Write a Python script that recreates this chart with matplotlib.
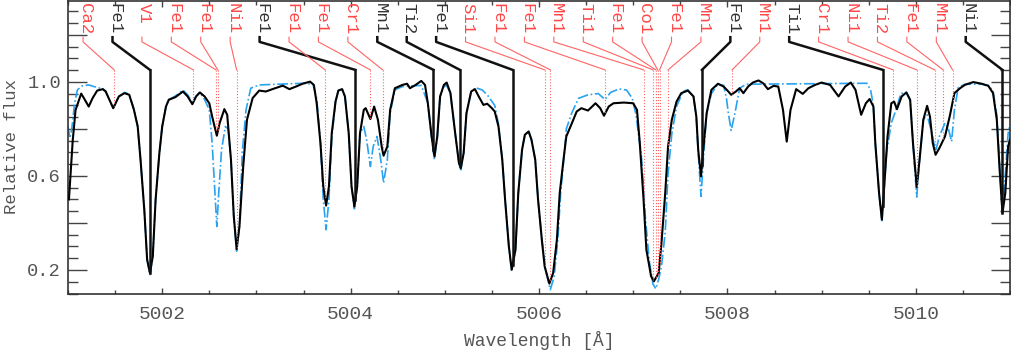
import numpy as np
import matplotlib
matplotlib.use('Agg')
import matplotlib.pyplot as plt
from matplotlib.ticker import MultipleLocator, FuncFormatter

plt.rcParams['font.family'] = ['Liberation Mono', 'DejaVu Sans Mono']

# observed spectrum (black)
obs_wave = [5001.01, 5001.05, 5001.08, 5001.14, 5001.17, 5001.22, 5001.26, 5001.31, 5001.37, 5001.40,
            5001.48, 5001.54, 5001.60, 5001.65, 5001.70, 5001.74, 5001.77, 5001.81, 5001.84, 5001.87,
            5001.90, 5001.93, 5001.97, 5002.00, 5002.04, 5002.07, 5002.14, 5002.22, 5002.27, 5002.32,
            5002.36, 5002.40, 5002.45, 5002.50, 5002.53, 5002.58, 5002.61, 5002.66, 5002.69, 5002.73,
            5002.76, 5002.79, 5002.82, 5002.86, 5002.90, 5002.96, 5003.03, 5003.10, 5003.17, 5003.28,
            5003.35, 5003.42, 5003.49, 5003.57, 5003.61, 5003.64, 5003.68, 5003.71, 5003.74, 5003.77,
            5003.80, 5003.84, 5003.87, 5003.91, 5003.94, 5003.98, 5004.01, 5004.04, 5004.07, 5004.10,
            5004.14, 5004.16, 5004.21, 5004.25, 5004.29, 5004.33, 5004.35, 5004.39, 5004.42, 5004.47,
            5004.55, 5004.60, 5004.63, 5004.69, 5004.75, 5004.79, 5004.82, 5004.86, 5004.89, 5004.92,
            5004.95, 5004.99, 5005.02, 5005.06, 5005.11, 5005.15, 5005.17, 5005.20, 5005.23, 5005.28,
            5005.32, 5005.36, 5005.41, 5005.45, 5005.50, 5005.53, 5005.57, 5005.61, 5005.64, 5005.68,
            5005.71, 5005.75, 5005.78, 5005.82, 5005.85, 5005.89, 5005.92, 5005.96, 5005.99, 5006.03,
            5006.06, 5006.11, 5006.15, 5006.19, 5006.22, 5006.26, 5006.29, 5006.35, 5006.40, 5006.45,
            5006.52, 5006.60, 5006.65, 5006.69, 5006.74, 5006.79, 5006.90, 5007.00, 5007.04, 5007.07,
            5007.11, 5007.14, 5007.19, 5007.22, 5007.27, 5007.30, 5007.34, 5007.37, 5007.41, 5007.46,
            5007.51, 5007.58, 5007.64, 5007.67, 5007.69, 5007.72, 5007.74, 5007.78, 5007.83, 5007.90,
            5007.96, 5008.01, 5008.04, 5008.09, 5008.13, 5008.17, 5008.22, 5008.27, 5008.33, 5008.38,
            5008.43, 5008.49, 5008.54, 5008.59, 5008.63, 5008.67, 5008.73, 5008.80, 5008.86, 5008.93,
            5009.00, 5009.09, 5009.18, 5009.25, 5009.31, 5009.36, 5009.42, 5009.47, 5009.51, 5009.55,
            5009.57, 5009.61, 5009.64, 5009.66, 5009.70, 5009.74, 5009.77, 5009.80, 5009.85, 5009.90,
            5009.94, 5009.97, 5010.01, 5010.04, 5010.08, 5010.12, 5010.15, 5010.18, 5010.21, 5010.25,
            5010.31, 5010.36, 5010.41, 5010.47, 5010.52, 5010.61, 5010.70, 5010.77, 5010.82, 5010.86,
            5010.89, 5010.92, 5010.95, 5010.98, 5011.00]
obs_flux = [0.500, 0.750, 0.880, 0.950, 0.930, 0.895, 0.930, 0.963, 0.969, 0.959,
            0.888, 0.938, 0.952, 0.945, 0.881, 0.810, 0.669, 0.456, 0.244, 0.187,
            0.258, 0.499, 0.697, 0.810, 0.895, 0.924, 0.935, 0.959, 0.938, 0.905,
            0.938, 0.955, 0.938, 0.909, 0.853, 0.771, 0.825, 0.884, 0.860, 0.669,
            0.428, 0.289, 0.385, 0.640, 0.839, 0.931, 0.963, 0.959, 0.969, 0.984,
            0.969, 0.980, 0.992, 1.001, 0.987, 0.909, 0.740, 0.555, 0.474, 0.555,
            0.782, 0.916, 0.963, 0.969, 0.938, 0.782, 0.555, 0.470, 0.555, 0.782,
            0.881, 0.888, 0.842, 0.895, 0.839, 0.725, 0.686, 0.725, 0.881, 0.973,
            0.987, 0.992, 0.973, 0.987, 1.004, 0.987, 0.909, 0.768, 0.683, 0.768,
            0.938, 0.987, 0.997, 0.952, 0.782, 0.655, 0.633, 0.697, 0.867, 0.959,
            0.969, 0.938, 0.902, 0.907, 0.888, 0.874, 0.810, 0.669, 0.499, 0.300,
            0.201, 0.286, 0.527, 0.711, 0.775, 0.789, 0.754, 0.669, 0.499, 0.329,
            0.215, 0.142, 0.187, 0.329, 0.527, 0.669, 0.768, 0.825, 0.874, 0.888,
            0.878, 0.909, 0.888, 0.856, 0.895, 0.909, 0.912, 0.909, 0.881, 0.740,
            0.499, 0.286, 0.173, 0.152, 0.187, 0.314, 0.527, 0.725, 0.839, 0.916,
            0.952, 0.963, 0.938, 0.853, 0.711, 0.598, 0.697, 0.867, 0.966, 0.992,
            0.980, 0.959, 0.945, 0.959, 0.973, 0.952, 0.980, 0.997, 1.006, 0.994,
            0.969, 0.983, 0.980, 0.881, 0.746, 0.881, 0.969, 0.949, 0.973, 0.987,
            0.997, 0.987, 0.938, 0.980, 0.997, 0.966, 0.860, 0.909, 0.927, 0.895,
            0.740, 0.527, 0.414, 0.527, 0.768, 0.909, 0.916, 0.884, 0.938, 0.955,
            0.924, 0.740, 0.553, 0.669, 0.839, 0.898, 0.853, 0.740, 0.690, 0.718,
            0.768, 0.853, 0.952, 0.973, 0.987, 0.999, 0.992, 0.983, 0.952, 0.839,
            0.626, 0.442, 0.527, 0.725, 0.754]

# synthetic spectrum (blue, dash-dot)
mod_wave = [5001.00, 5001.02, 5001.04, 5001.07, 5001.10, 5001.15, 5001.22, 5001.30, 5001.37, 5001.40,
            5001.48, 5001.54, 5001.60, 5001.65, 5001.70, 5001.74, 5001.77, 5001.81, 5001.84, 5001.87,
            5001.90, 5001.93, 5001.97, 5002.00, 5002.04, 5002.07, 5002.14, 5002.22, 5002.27, 5002.32,
            5002.36, 5002.40, 5002.45, 5002.50, 5002.53, 5002.56, 5002.58, 5002.60, 5002.63, 5002.67,
            5002.70, 5002.73, 5002.76, 5002.79, 5002.82, 5002.85, 5002.89, 5002.94, 5003.03, 5003.50,
            5003.60, 5003.64, 5003.68, 5003.71, 5003.74, 5003.77, 5003.80, 5003.84, 5003.87, 5003.91,
            5003.94, 5003.98, 5004.01, 5004.04, 5004.07, 5004.10, 5004.14, 5004.17, 5004.21, 5004.24,
            5004.28, 5004.32, 5004.35, 5004.39, 5004.42, 5004.47, 5004.55, 5004.75, 5004.82, 5004.86,
            5004.89, 5004.92, 5004.95, 5004.99, 5005.02, 5005.06, 5005.11, 5005.15, 5005.17, 5005.20,
            5005.23, 5005.28, 5005.33, 5005.40, 5005.46, 5005.53, 5005.57, 5005.61, 5005.64, 5005.68,
            5005.71, 5005.75, 5005.78, 5005.82, 5005.85, 5005.89, 5005.92, 5005.96, 5005.99, 5006.03,
            5006.07, 5006.12, 5006.16, 5006.20, 5006.23, 5006.27, 5006.29, 5006.35, 5006.42, 5006.52,
            5006.63, 5006.70, 5006.76, 5006.85, 5006.93, 5006.99, 5007.03, 5007.09, 5007.13, 5007.17,
            5007.21, 5007.24, 5007.27, 5007.30, 5007.34, 5007.37, 5007.41, 5007.46, 5007.53, 5007.58,
            5007.64, 5007.67, 5007.69, 5007.72, 5007.75, 5007.78, 5007.83, 5007.90, 5007.96, 5007.99,
            5008.01, 5008.04, 5008.08, 5008.13, 5008.20, 5009.48, 5009.52, 5009.55, 5009.57, 5009.61,
            5009.64, 5009.66, 5009.69, 5009.74, 5009.79, 5009.84, 5009.90, 5009.94, 5009.97, 5010.01,
            5010.04, 5010.08, 5010.12, 5010.17, 5010.21, 5010.25, 5010.31, 5010.34, 5010.38, 5010.41,
            5010.45, 5010.52, 5010.70, 5010.77, 5010.82, 5010.86, 5010.89, 5010.92, 5010.94, 5010.98,
            5011.00]
mod_flux = [0.810, 0.760, 0.800, 0.909, 0.966, 0.983, 0.987, 0.977, 0.970, 0.960,
            0.888, 0.938, 0.955, 0.948, 0.885, 0.810, 0.669, 0.456, 0.244, 0.180,
            0.258, 0.499, 0.697, 0.810, 0.895, 0.924, 0.940, 0.965, 0.945, 0.910,
            0.940, 0.955, 0.925, 0.881, 0.740, 0.527, 0.385, 0.527, 0.711, 0.810,
            0.800, 0.669, 0.428, 0.280, 0.385, 0.700, 0.881, 0.973, 0.987, 0.994,
            0.990, 0.930, 0.740, 0.500, 0.371, 0.500, 0.760, 0.916, 0.963, 0.969,
            0.938, 0.782, 0.555, 0.460, 0.555, 0.782, 0.810, 0.754, 0.640, 0.725,
            0.768, 0.669, 0.570, 0.669, 0.867, 0.966, 0.980, 0.985, 0.910, 0.760,
            0.669, 0.760, 0.938, 0.980, 0.985, 0.950, 0.782, 0.655, 0.626, 0.697,
            0.867, 0.960, 0.975, 0.965, 0.940, 0.900, 0.820, 0.670, 0.500, 0.300,
            0.195, 0.286, 0.527, 0.711, 0.775, 0.789, 0.754, 0.669, 0.500, 0.330,
            0.200, 0.116, 0.170, 0.330, 0.530, 0.700, 0.800, 0.870, 0.930, 0.945,
            0.950, 0.925, 0.955, 0.970, 0.965, 0.930, 0.860, 0.670, 0.420, 0.240,
            0.140, 0.120, 0.160, 0.215, 0.360, 0.610, 0.780, 0.895, 0.960, 0.966,
            0.938, 0.850, 0.700, 0.513, 0.700, 0.867, 0.950, 0.990, 0.985, 0.930,
            0.867, 0.793, 0.867, 0.973, 0.990, 0.994, 0.966, 0.900, 0.740, 0.527,
            0.410, 0.527, 0.700, 0.825, 0.881, 0.950, 0.955, 0.920, 0.740, 0.510,
            0.669, 0.839, 0.860, 0.782, 0.704, 0.768, 0.825, 0.810, 0.746, 0.881,
            0.975, 0.990, 0.990, 0.985, 0.960, 0.860, 0.640, 0.440, 0.550, 0.780,
            0.820]

# identified lines
line_elem = ['Ca2', 'Fe1', 'V1', 'Fe1', 'Fe1', 'Ni1', 'Fe1', 'Fe1', 'Fe1', 'Cr1',
             'Mn1', 'Ti2', 'Fe1', 'Si1', 'Fe1', 'Fe1', 'Mn1', 'Ti1', 'Fe1', 'Co1',
             'Fe1', 'Mn1', 'Fe1', 'Mn1', 'Ti1', 'Cr1', 'Ni1', 'Ti2', 'Fe1', 'Mn1', 'Ni1']
line_wave = [5001.49, 5001.87, 5002.33, 5002.57, 5002.59, 5002.79, 5004.05, 5003.73, 5004.21, 5004.34,
             5004.88, 5005.16, 5005.72, 5006.06, 5006.12, 5006.70, 5007.11, 5007.21, 5007.24, 5007.26,
             5007.28, 5007.37, 5007.73, 5008.05, 5009.65, 5009.76, 5010.01, 5010.20, 5010.29, 5010.39,
             5010.92]
line_strong = [False, True, False, False, False, False, True, False, False, False,
               True, True, True, False, False, False, False, False, False, False,
               False, False, True, False, True, False, False, False, False, False, True]


def label_lines(ax):
    anchors = np.linspace(5001.16, 5010.53, len(line_elem))
    for a, w, el, strong in zip(anchors, line_wave, line_elem, line_strong):
        if strong:
            col, tcol, lw, ls = '#111111', '#333333', 1.8, '-'
        else:
            col, tcol, lw, ls = '#ff6464', '#ff4848', 0.8, ':'
        bottom = np.interp(w, obs_wave, obs_flux)
        ax.plot([a, a, w], [1.19, 1.17, 1.051], color=col, lw=lw, zorder=4, clip_on=False)
        ax.plot([w, w], [1.051, bottom], color=col, lw=lw, ls=ls, zorder=4)
        ax.text(a - 0.02, 1.336, el, rotation=-90, rotation_mode='anchor',
                ha='left', va='baseline', color=tcol, fontsize=12.5)


def main():
    fig = plt.figure(figsize=(10.11, 3.52), dpi=100)
    ax = fig.add_axes([68 / 1011, 58.5 / 352, 942 / 1011, 293.0 / 352])

    ax.plot(mod_wave, mod_flux, color='#29a3f0', lw=1.2, ls='-.', zorder=2)
    ax.plot(obs_wave, obs_flux, color='black', lw=1.5, zorder=3)
    label_lines(ax)

    ax.set_xlim(5001, 5011)
    ax.set_ylim(0.1, 1.346)

    ax.xaxis.set_major_locator(MultipleLocator(2))
    ax.xaxis.set_minor_locator(MultipleLocator(0.5))
    ax.yaxis.set_major_locator(MultipleLocator(0.2))
    ax.yaxis.set_minor_locator(MultipleLocator(0.05))

    def ylab(v, pos):
        k = (v - 0.2) / 0.4
        if abs(k - round(k)) < 1e-6:
            return '%.1f' % v
        return ''
    ax.yaxis.set_major_formatter(FuncFormatter(ylab))
    ax.xaxis.set_major_formatter(FuncFormatter(lambda v, p: '%d' % round(v)))

    ax.tick_params(axis='x', which='major', direction='in', length=4.3, width=1,
                   top=True, bottom=True, labelsize=14, pad=9, colors='#444444',
                   labelcolor='#555555')
    ax.tick_params(axis='x', which='minor', direction='in', length=2.6, width=1,
                   top=True, bottom=True, colors='#444444')
    ax.tick_params(axis='y', which='major', direction='in', length=13.7, width=1,
                   left=True, right=True, labelsize=13.5, pad=5, colors='#444444',
                   labelcolor='#555555')
    ax.tick_params(axis='y', which='minor', direction='in', length=7.2, width=1,
                   left=True, right=True, colors='#444444')
    for sp in ax.spines.values():
        sp.set_color('#333333')
        sp.set_linewidth(1.2)

    fig.text(12 / 1011, 1 - 147 / 352, 'Relative flux', rotation=90, ha='center', va='center',
             fontsize=12.5, color='#555555')
    fig.text(539 / 1011, 1 - 340 / 352, 'Wavelength [Å]', ha='center', va='center',
             fontsize=13, color='#555555')

    fig.savefig('out.png', dpi=100)


if __name__ == "__main__":
    main()
